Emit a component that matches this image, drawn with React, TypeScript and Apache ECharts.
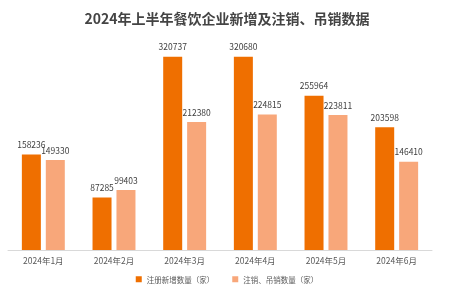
import React, { useEffect, useRef } from "react";
import * as echarts from "echarts";

const titleText = "2024年上半年餐饮企业新增及注销、吊销数据";
const months = ["2024年1月", "2024年2月", "2024年3月", "2024年4月", "2024年5月", "2024年6月"];
const newRegistered = [158236, 87285, 320737, 320680, 255964, 203598];
const cancelled = [149330, 99403, 212380, 224815, 223811, 146410];
const seriesNames = ["注册新增数量（家）", "注销、吊销数量（家）"];

export default function App() {
  const ref = useRef<HTMLDivElement>(null);
  useEffect(() => {
    const chart = echarts.init(ref.current!, null, { renderer: "svg" });
    chart.setOption({
      animation: false,
      textStyle: { fontFamily: "'Noto Sans CJK SC', 'Noto Sans', sans-serif" },
      title: {
        text: titleText,
        left: "center",
        top: 6,
        textStyle: { fontSize: 14, fontWeight: "bold", color: "#444444" },
      },
      legend: {
        bottom: 11,
        left: "center",
        itemWidth: 6,
        itemHeight: 6,
        itemGap: 18,
        itemTextGap: 5,
        icon: "rect",
        textStyle: { fontSize: 7.5, color: "#595959" },
        data: seriesNames,
      },
      grid: { left: 8, right: 22, top: 39, bottom: 49 },
      xAxis: {
        type: "category",
        data: months,
        axisLine: { lineStyle: { color: "#d9d9d9" } },
        axisTick: { show: false },
        axisLabel: { fontSize: 8.5, color: "#595959", margin: 6 },
      },
      yAxis: {
        type: "value",
        min: 0,
        max: 350000,
        show: false,
        splitLine: { show: false },
      },
      series: [
        {
          name: seriesNames[0],
          type: "bar",
          data: newRegistered,
          barWidth: 19,
          barGap: "26%",
          itemStyle: { color: "#EF6F00" },
          label: { show: true, position: "top", fontSize: 8.5, color: "#404040", distance: 6 },
        },
        {
          name: seriesNames[1],
          type: "bar",
          data: cancelled,
          barWidth: 19,
          itemStyle: { color: "#F8A77A" },
          label: { show: true, position: "top", fontSize: 8.5, color: "#404040", distance: 6 },
        },
      ],
    });
    return () => chart.dispose();
  }, []);
  return <div ref={ref} style={{ width: 454, height: 299, position: "fixed", left: 0, top: 0 }} />;
}
